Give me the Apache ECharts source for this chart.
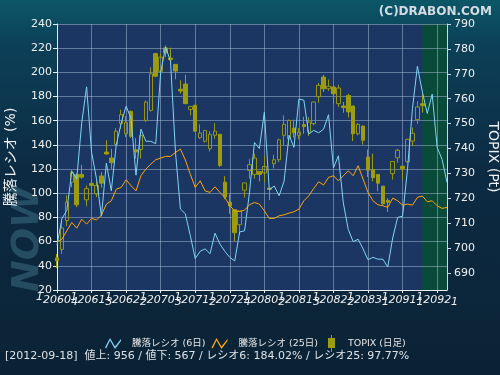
<!DOCTYPE html>
<html>
<head>
<meta charset="utf-8">
<script src="https://cdn.jsdelivr.net/npm/echarts@6/dist/echarts.min.js"></script>
<style>
html, body { margin: 0; padding: 0; }
#main { width: 500px; height: 375px; }
</style>
</head>
<body>
<div id="main"></div>
<script>
// 日付 (YYMMDD)
var dates = ['120604','120605','120606','120607','120608','120611','120612','120613','120614','120615',
  '120618','120619','120620','120621','120622','120625','120626','120627','120628','120629',
  '120702','120703','120704','120705','120706','120709','120710','120711','120712','120713',
  '120717','120718','120719','120720','120723','120724','120725','120726','120727','120730',
  '120731','120801','120802','120803','120806','120807','120808','120809','120810','120813',
  '120814','120815','120816','120817','120820','120821','120822','120823','120824','120827',
  '120828','120829','120830','120831','120903','120904','120905','120906','120907','120910',
  '120911','120912','120913','120914','120918','120919','120920','120921','120924','120925'];

// 騰落レシオ (6日)
var ratio6 = [57, 79, 86, 118, 112, 158, 188, 134, 112, 81,
  125, 102, 140, 158, 172, 162, 115, 153, 143, 143,
  141, 200, 221, 209, 134, 87, 83, 65, 46, 52,
  54, 50, 67, 58, 52, 47, 44, 68, 69, 101,
  142, 137, 167, 103, 106, 98, 110, 148, 138, 178,
  177, 149, 152, 150, 153, 165, 121, 131, 92, 70,
  60, 62, 54, 45, 47, 45.5, 45.5, 39, 63, 80,
  81, 120, 170, 205, 184.02, 166, 182, 138, 128, 109];

// 騰落レシオ (25日)
var ratio25 = [59.8, 62, 69, 75.9, 71.1, 78.6, 74.5, 79.2, 78, 81.9,
  91, 93.8, 103.4, 104.8, 111.2, 106.2, 102, 114.5, 120, 124.1,
  127.7, 129.1, 130.5, 130.5, 133.8, 136.5, 127.5, 115.8, 104.8, 110.3,
  102, 100.7, 105.4, 100.7, 96.6, 89.7, 85.5, 85, 86, 90.5,
  92.4, 91, 85.5, 79.2, 79.2, 81.4, 82.2, 83.6, 84.7, 86.9,
  93.8, 97.9, 104, 109.5, 106.8, 113.1, 114.5, 110.3, 114.5, 118.6,
  114.5, 122.8, 111.7, 100.7, 93.8, 90.5, 89.7, 88.3, 96, 93.8,
  90.2, 91, 90.2, 96.6, 97.77, 93, 93.8, 89.7, 87.5, 88.3];

// TOPIX 日足 [始値, 終値, 安値, 高値]
var topix = [
  [696.1, 694.9, 692.0, 697.7], [699.5, 708.1, 697.7, 710.5], [711.1, 718.5, 708.9, 721.2],
  [726.5, 730.5, 724.5, 731.5], [729.5, 717.4, 716.5, 730.0], [729.6, 728.5, 727.9, 733.5],
  [719.4, 723.9, 716.8, 725.2], [726.0, 725.2, 722.8, 727.9], [721.8, 725.2, 720.5, 726.8],
  [729.0, 726.1, 724.3, 730.5], [738.6, 737.8, 737.5, 743.3], [736.2, 734.3, 731.9, 739.9],
  [741.7, 747.0, 741.0, 748.2], [750.0, 753.6, 747.9, 755.6], [745.9, 750.4, 744.6, 753.0],
  [754.9, 744.9, 744.2, 755.3], [739.5, 738.6, 736.0, 744.2], [739.6, 745.3, 736.0, 746.6],
  [751.3, 758.7, 750.6, 759.3], [755.3, 770.0, 754.9, 772.6], [778.1, 769.0, 768.7, 778.4],
  [771.0, 776.7, 770.8, 778.1], [780.4, 778.4, 776.7, 781.4], [776.3, 775.7, 774.1, 780.5],
  [773.8, 771.1, 767.8, 773.8], [763.8, 763.1, 762.0, 767.4], [765.9, 758.0, 758.0, 769.6],
  [755.7, 756.9, 753.3, 756.9], [757.4, 747.0, 746.6, 757.4], [744.3, 746.2, 743.9, 749.7],
  [742.9, 747.3, 742.4, 747.3], [739.9, 745.7, 738.8, 747.0], [745.3, 747.0, 743.9, 750.2],
  [745.7, 733.2, 732.6, 745.7], [726.5, 720.5, 719.7, 728.9], [718.5, 716.9, 713.8, 721.6],
  [715.4, 706.2, 702.8, 715.4], [709.4, 714.9, 705.5, 714.9], [723.3, 726.2, 720.3, 726.2],
  [731.2, 733.5, 727.9, 735.9], [729.6, 736.2, 727.9, 737.9], [730.8, 729.6, 726.8, 730.8],
  [730.2, 732.8, 726.5, 736.8], [724.1, 723.6, 719.3, 724.1], [733.9, 735.5, 732.0, 737.5],
  [735.5, 743.5, 734.5, 743.9], [745.3, 749.7, 741.3, 753.3], [743.9, 751.3, 741.3, 751.6],
  [748.2, 746.3, 744.4, 751.6], [745.3, 746.6, 743.7, 748.2], [749.6, 748.8, 745.9, 752.8],
  [746.6, 750.6, 745.0, 752.6], [750.0, 758.7, 749.3, 758.9], [760.8, 765.4, 758.4, 766.3],
  [768.7, 764.0, 762.7, 769.6], [764.0, 765.0, 763.1, 767.7], [764.7, 762.0, 758.0, 765.4],
  [758.0, 764.3, 756.7, 765.6], [757.1, 756.4, 754.4, 758.7], [761.3, 754.7, 752.5, 762.0],
  [757.1, 745.9, 743.0, 757.1], [745.9, 749.7, 745.3, 750.2], [749.0, 743.3, 741.6, 749.3],
  [736.6, 731.3, 728.6, 739.6], [731.5, 728.3, 726.8, 737.9], [729.6, 726.1, 722.8, 729.6],
  [724.9, 717.8, 717.4, 724.9], [719.2, 718.4, 714.5, 720.1], [729.9, 734.8, 727.5, 734.8],
  [736.3, 739.3, 734.3, 739.9], [732.9, 731.9, 727.5, 732.9], [734.7, 743.7, 734.3, 743.9],
  [743.0, 746.1, 741.0, 748.4], [751.6, 756.7, 749.9, 759.0], [758.0, 757.2, 754.4, 762.0]
];

var leftTicks = [20, 240, 20];       // min, max, interval
var rightLabels = [690, 700, 710, 720, 730, 740, 750, 760, 770, 780, 790];
var curDate = '120918';
var statusText = '[2012-09-18]  値上: 956 / 値下: 567 / レシオ6: 184.02% / レシオ25: 97.77%';

var FONT = '"DejaVu Sans", "Noto Sans CJK JP", sans-serif';
var zig = 'path://M0,9.5 L5,0 L10,8.5 L16,1 L16,3 L10,11 L5,2.5 L1.2,10.5Z';
var candleIcon = 'path://M3,0 L4,0 L4,3 L7,3 L7,13 L4,13 L4,17 L3,17 L3,13 L0,13 L0,3 L3,3Z';

// 日付ラベル (波打つ文字) : 7営業日ごと、重なり回避のため2本の軸に交互に振り分け
function dateLabel(v) {
  return '{a|' + v.charAt(0) + '}{b|' + v.slice(1, 5) + '}{c|' + v.charAt(5) + '}';
}
var dateRich = {
  a: {color: '#f0f0f0', fontSize: 11, fontFamily: FONT, fontStyle: 'italic', lineHeight: 11, verticalAlign: 'top'},
  b: {color: '#f0f0f0', fontSize: 11, fontFamily: FONT, fontStyle: 'italic', lineHeight: 16, verticalAlign: 'middle'},
  c: {color: '#f0f0f0', fontSize: 11, fontFamily: FONT, fontStyle: 'italic', lineHeight: 11, verticalAlign: 'bottom'}
};

var myChart = echarts.init(document.getElementById('main'));

var option = {
  animation: false,
  backgroundColor: new echarts.graphic.LinearGradient(0, 0, 0, 1, [
    {offset: 0, color: '#0b5767'},
    {offset: 0.12, color: '#0c4058'},
    {offset: 0.45, color: '#0c2b43'},
    {offset: 1, color: '#0b2235'}
  ]),
  title: {
    text: '(C)DRABON.COM',
    right: 3, top: 1,
    textStyle: {color: '#d4dbe2', fontSize: 12, fontWeight: 'bold', fontFamily: FONT}
  },
  grid: {
    left: 57, right: 53, top: 24, bottom: 85,
    outerBoundsMode: 'none',
    containLabel: false,
    show: true, backgroundColor: '#1b3662', borderWidth: 0
  },
  legend: [{
    left: 100, top: 333, itemWidth: 16, itemHeight: 11, itemGap: 6,
    textStyle: {color: '#e6e6e6', fontSize: 9.5, fontFamily: FONT, padding: [0, 0, 0, 6]},
    data: [{name: '騰落レシオ (6日)', icon: zig}, {name: '騰落レシオ (25日)', icon: zig}]
  }, {
    left: 323, top: 330, itemWidth: 7, itemHeight: 17,
    textStyle: {color: '#e6e6e6', fontSize: 9.5, fontFamily: FONT, padding: [0, 0, 0, 8]},
    data: [{name: 'TOPIX (日足)', icon: candleIcon, itemStyle: {color: '#9c9c0c', borderWidth: 0}}]
  }],
  xAxis: [{
    type: 'category',
    data: dates,
    boundaryGap: false,
    z: 1.5,
    axisLine: {lineStyle: {color: '#e8ecf0', width: 1}},
    axisTick: {interval: 6, length: 3, lineStyle: {color: '#e8ecf0'}},
    axisLabel: {
      interval: function (i) { return i % 14 === 0; },
      margin: 2, formatter: dateLabel, rich: dateRich
    },
    splitLine: {show: true, interval: 6, lineStyle: {color: 'rgba(170,190,215,0.5)', width: 1}}
  }, {
    type: 'category',
    data: dates,
    boundaryGap: false,
    position: 'bottom',
    z: 1.5,
    axisLine: {show: false},
    axisTick: {show: false},
    axisLabel: {
      interval: function (i) { return i % 14 === 7; },
      margin: 2, formatter: dateLabel, rich: dateRich
    },
    splitLine: {show: false}
  }],
  yAxis: [{
    type: 'value',
    min: leftTicks[0], max: leftTicks[1], interval: leftTicks[2],
    position: 'left',
    z: 1.5,
    name: '騰落レシオ (%)',
    nameLocation: 'middle', nameGap: 39, nameRotate: 90,
    nameTextStyle: {color: '#f0f0f0', fontSize: 14, fontFamily: FONT},
    axisLine: {show: true, lineStyle: {color: '#e8ecf0'}},
    axisTick: {show: true, length: 4, lineStyle: {color: '#e8ecf0'}},
    axisLabel: {color: '#f0f0f0', fontSize: 11, fontFamily: FONT, margin: 5},
    splitLine: {show: true, lineStyle: {color: 'rgba(170,190,215,0.5)', width: 1}}
  }, {
    type: 'value',
    min: 683.2, max: 790,
    position: 'right',
    z: 1.5,
    name: 'TOPIX (Pt)',
    nameLocation: 'middle', nameGap: 38, nameRotate: -90,
    nameTextStyle: {color: '#f0f0f0', fontSize: 14, fontFamily: FONT},
    axisLine: {show: true, lineStyle: {color: '#c8d8e8'}},
    axisTick: {show: true, length: 4, customValues: rightLabels, lineStyle: {color: '#c8d8e8'}},
    axisLabel: {color: '#f0f0f0', fontSize: 11, fontFamily: FONT, margin: 7, customValues: rightLabels},
    splitLine: {show: false}
  }],
  series: [{
    // 選択日以降の帯
    type: 'line',
    data: [],
    z: 1,
    silent: true,
    markArea: {
      silent: true,
      itemStyle: {color: '#0a4a3b', opacity: 1},
      data: [[{xAxis: curDate}, {xAxis: dates[dates.length - 1]}]]
    }
  }, {
    name: 'TOPIX (日足)',
    type: 'candlestick',
    yAxisIndex: 1,
    data: topix,
    barWidth: 4,
    itemStyle: {
      color: 'rgba(0,0,0,0)', color0: '#9c9c0c',
      borderColor: '#95950f', borderColor0: '#9c9c0c', borderWidth: 1
    }
  }, {
    name: '騰落レシオ (25日)',
    type: 'line',
    data: ratio25,
    symbol: 'none',
    color: '#ffa500',
    lineStyle: {color: '#ffa500', width: 1}
  }, {
    name: '騰落レシオ (6日)',
    type: 'line',
    data: ratio6,
    symbol: 'none',
    color: '#80d4f4',
    lineStyle: {color: '#80d4f4', width: 1}
  }],
  graphic: [{
    // 左側の透かしロゴ
    type: 'text',
    x: 9, y: 292, rotation: Math.PI / 2,
    style: {text: 'NOW', fill: 'rgba(70,125,145,0.45)', font: 'italic bold 38px "DejaVu Sans", sans-serif'},
    z: -1
  }, {
    type: 'text',
    left: 5, top: 351,
    style: {text: statusText, fill: '#dde2e6', font: '11px "DejaVu Sans", "Noto Sans CJK JP", sans-serif'}
  }]
};

myChart.setOption(option);
</script>
</body>
</html>
